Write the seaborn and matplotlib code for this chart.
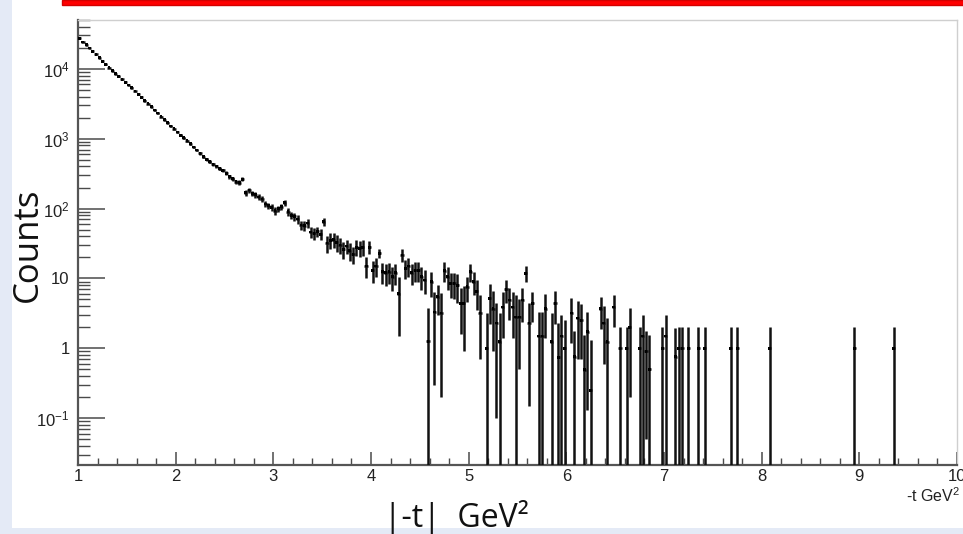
import numpy as np
import pandas as pd
import matplotlib
matplotlib.use("Agg")
import matplotlib.pyplot as plt
import seaborn as sns
from matplotlib.patches import Rectangle
from matplotlib.ticker import FixedLocator, FixedFormatter, NullFormatter

# ---------------- data ----------------
t_min, t_max, n_bins = 1.0, 10.0, 270          # histogram binning, width 1/30 GeV^2

# bins 0..75 (smooth falling part)
counts_head = [27350, 24200, 22030, 19800, 17900, 16100, 14350, 12800, 11600, 10400,
               9350, 8550, 7800, 7050, 6450, 5850, 5350, 4800, 4330, 3920,
               3480, 3150, 2860, 2570, 2340, 2060, 1880, 1700, 1520, 1390,
               1250, 1120, 1030, 930, 845, 760, 690, 615, 555, 505,
               470, 432, 405, 372, 352, 320, 288, 268, 242, 235,
               262, 168, 184, 163, 157, 146, 137, 116, 110, 104,
               93, 99, 106, 122, 90, 80, 77, 71, 58, 57,
               62, 46, 44, 47, 43, 65]
errors_head = [165, 156, 148, 141, 134, 127, 120, 113, 108, 102,
               97, 92, 88, 84, 80, 76, 73, 69, 66, 63,
               59, 56, 53, 51, 48, 45, 43, 41, 39, 37,
               35, 33, 32, 30, 29, 28, 26, 25, 24, 22,
               22, 21, 20, 19, 19, 20, 19, 18, 17, 17,
               18, 15, 15, 14, 14, 13, 13, 12, 12, 11,
               11, 11, 11, 12, 11, 10, 10, 10, 9, 9,
               9, 8, 8, 8, 8, 9]

# bins 76..137 (noisy part)
counts_mid = [32, 35, 36, 33, 30, 26, 29, 25, 22, 28,
              27, 28, 15, 28, 13, 15, 23, 12.5, 12, 12.5,
              10.6, 12, 6, 21.6, 14, 15, 12, 13, 13, 10.6,
              9.5, 1.25, 9, 3.3, 5.5, 3.2, 12.9, 10.6, 8.5, 8.5,
              8, 4.4, 4.4, 7.6, 12.5, 9, 6.5, 3.2, 0, 1.0,
              5.2, 3.7, 2.3, 1.24, 3.9, 7, 4.9, 3.9, 2.8, 2.8,
              4.9, 11.9]
errors_mid = [9, 9, 9, 9, 8, 7, 7, 7, 6, 7,
              7, 7, 5, 6, 4.5, 4.5, 3.7, 4.2, 4.2, 4.2,
              4, 4, 4.5, 4.5, 4.2, 4.4, 4, 4.2, 4.2, 3.8,
              3.6, 2.5, 3.5, 3.0, 2.5, 3.0, 4, 3.8, 3.3, 3.5,
              3.5, 2.8, 3.5, 3, 3.5, 3.3, 3, 2.5, 0, 2.2,
              3, 2.8, 2.2, 2.0, 2.5, 2.5, 2.4, 2.5, 2.9, 2.3,
              2.5, 3]

# sparse tail: only the filled bins
tail_bins = [138, 139, 141, 142, 143, 145, 146, 147, 148, 149,
             151, 152, 153, 154, 155, 156, 157, 160, 161, 162,
             164, 166, 168, 169, 172, 173, 174, 175, 179, 180,
             183, 184, 185, 187, 190, 192, 200, 202, 212, 238, 250]
tail_counts = [2.3, 4.4, 1.5, 1.5, 3.7, 1.24, 4.4, 0.74, 1.5, 1.0,
               3.2, 0.76, 2.7, 2.5, 0.49, 1.73, 0.25, 3.7, 2.3, 1.24,
               3.9, 1, 1, 2, 1, 1.5, 0.9, 0.5, 1, 1.5,
               0.76, 1, 1, 1, 1, 1, 1, 1, 1, 1, 1]
tail_errors = [2.15, 2.0, 1.8, 1.8, 2.3, 2.0, 2.2, 1.56, 1.5, 1.5,
               2.0, 1.0, 2.0, 1.8, 1.06, 1.6, 1.05, 1.8, 1.7, 1.45,
               1.9, 1, 1, 1.8, 1, 1.5, 0.85, 1.05, 1, 1.5,
               1.17, 1, 1, 1, 1, 1, 1, 1, 1, 1, 1]

x_ticks = [1, 2, 3, 4, 5, 6, 7, 8, 9, 10]
y_ticks = [0.1, 1, 10, 100, 1000, 10000]
y_tick_labels = ["$10^{-1}$", "1", "10", "$10^{2}$", "$10^{3}$", "$10^{4}$"]
y_lim = (0.0211, 50000)

# ---------------- build table ----------------
width = (t_max - t_min) / n_bins
bins = list(range(0, 76)) + list(range(76, 138)) + tail_bins
vals = counts_head + counts_mid + tail_counts
errs = errors_head + errors_mid + tail_errors
df = pd.DataFrame({"bin": bins, "counts": vals, "err": errs})
df = df[df["counts"] > 0].copy()
df["t"] = t_min + (df["bin"] + 0.5) * width
low = np.maximum(df["counts"] - df["err"], y_lim[0] * 0.5)
df["err_lo"] = df["counts"] - low
df["err_hi"] = df["err"]

# ---------------- style ----------------
sns.set_theme(style="white")
plt.rcParams["font.family"] = ["Liberation Sans", "DejaVu Sans"]
plt.rcParams["mathtext.fontset"] = "custom"
plt.rcParams["mathtext.rm"] = "Liberation Sans"
plt.rcParams["mathtext.it"] = "Liberation Sans:italic"
plt.rcParams["mathtext.bf"] = "Liberation Sans:bold"

W, H = 963, 534
fig = plt.figure(figsize=(W / 100, H / 100), dpi=100)
fig.patch.set_facecolor("#e4eaf6")
fig.patches.append(Rectangle((11.5 / W, 1 - 528 / H), 1, 528 / H, transform=fig.transFigure,
                             facecolor="white", edgecolor="none", zorder=-10))
fig.patches.append(Rectangle((61.5 / W, 1 - 5 / H), 1, 5 / H, transform=fig.transFigure,
                             facecolor="#ff0000", edgecolor="#d40000", lw=1.0, zorder=-9))

ax = fig.add_axes([78 / W, 1 - 465.3 / H, (957 - 78) / W, (465.3 - 20) / H])
ax.set_zorder(2)
ax.set_facecolor("white")

ax.errorbar(df["t"], df["counts"], xerr=width / 2, yerr=[df["err_lo"], df["err_hi"]],
            fmt="none", ecolor="#111111", elinewidth=1.8, capsize=0, zorder=3)
sns.scatterplot(data=df, x="t", y="counts", marker="s", s=4, color="black",
                edgecolor="none", linewidth=0, ax=ax, zorder=4, legend=False)

ax.set_yscale("log")
ax.set_xlim(t_min, t_max)
ax.set_ylim(*y_lim)
ax.set_xlabel("")
ax.set_ylabel("")

ax.xaxis.set_major_locator(FixedLocator(x_ticks))
ax.xaxis.set_major_formatter(FixedFormatter([str(v) for v in x_ticks]))
ax.xaxis.set_minor_locator(FixedLocator(np.arange(1.2, 10.0, 0.2)))
ax.yaxis.set_major_locator(FixedLocator(y_ticks))
ax.yaxis.set_major_formatter(FixedFormatter(y_tick_labels))
minor_y = [m * 10.0 ** e for e in range(-2, 5) for m in range(2, 10)]
ax.yaxis.set_minor_locator(FixedLocator(minor_y))
ax.yaxis.set_minor_formatter(NullFormatter())

tick_col = "#4a4a4a"
ax.tick_params(which="both", bottom=True, left=True, top=False, right=False)
ax.tick_params(axis="x", which="major", direction="in", length=9.4, width=1.1,
               color=tick_col, labelsize=12, pad=2.5, labelcolor="#222222")
ax.tick_params(axis="x", which="minor", direction="in", length=5, width=1.0, color=tick_col)
ax.tick_params(axis="y", which="major", direction="in", length=19.4, width=1.1,
               color=tick_col, labelsize=12, pad=6, labelcolor="#222222")
ax.tick_params(axis="y", which="minor", direction="in", length=8.6, width=1.0, color=tick_col)

for s in ["left", "bottom"]:
    ax.spines[s].set_color("#555555")
    ax.spines[s].set_linewidth(1.6)
for s in ["top", "right"]:
    ax.spines[s].set_color("#cfcfcf")
    ax.spines[s].set_linewidth(1.0)

# axis titles
fig.text(960 / W, 1 - 502 / H, "-t GeV$^{2}$", ha="right", va="baseline",
         fontsize=11.5, color="#222222", family=["Liberation Sans", "DejaVu Sans"], zorder=5)
fig.text(28 / W, 1 - 245 / H, "Counts", rotation=90, ha="center", va="center",
         fontsize=25, color="#111111", family=["Open Sans", "DejaVu Sans"], zorder=5)
fig.text(384 / W, 1 - 527 / H, "|-t|  GeV²", ha="left", va="baseline",
         fontsize=23, color="#111111", family=["Open Sans", "DejaVu Sans"], zorder=5)

fig.savefig("out.png", dpi=100, facecolor=fig.get_facecolor())
